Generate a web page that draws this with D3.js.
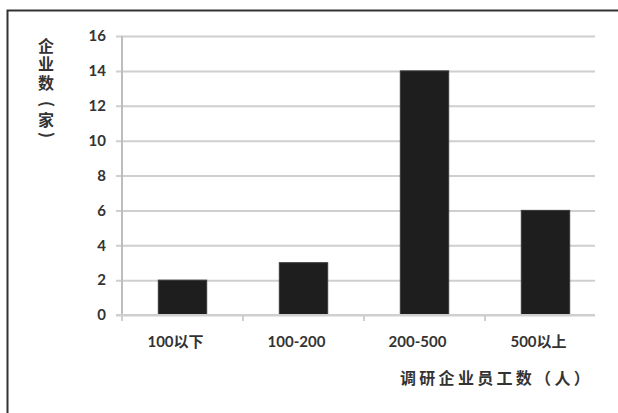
<!DOCTYPE html>
<html>
<head>
<meta charset="utf-8">
<script src="https://cdn.jsdelivr.net/npm/d3@7"></script>
<style>
html,body{margin:0;padding:0;background:#fff;}
svg{display:block;}
</style>
</head>
<body>
<svg id="chart" width="618" height="413"></svg>
<script>
const categories = ["100以下", "100-200", "200-500", "500以上"];
const values = [2, 3, 14, 6];
const yTicks = [0, 2, 4, 6, 8, 10, 12, 14, 16];
const yTitleChars = ["企", "业", "数", "(", "家", ")"];
const xTitle = "调研企业员工数（人）";

(function () {
const svg = d3.select("#chart");
const W = 618, H = 413;
const pL = 122, pR = 595, pT = 36, pB = 315;

svg.append("rect").attr("width", W).attr("height", H).attr("fill", "#fff");

// frame
svg.append("path")
  .attr("d", `M7.5,${H} L7.5,10.5 L${W},10.5`)
  .attr("fill", "none").attr("stroke", "#333").attr("stroke-width", 2);

const x = d3.scaleBand().domain(categories).range([pL, 606])
  .paddingInner(0.6).paddingOuter(0.3);
const y = d3.scaleLinear().domain([0, 16]).range([pB, pT]);

// gridlines with left ticks
const yAxis = d3.axisLeft(y).tickValues(yTicks).tickSize(-(pR - pL)).tickPadding(10);
const gy = svg.append("g").attr("transform", `translate(${pL},0)`).call(yAxis);
gy.select(".domain").remove();
gy.selectAll(".tick line").attr("stroke", "#cfcfcf").attr("stroke-width", 2)
  .attr("x1", -6);
gy.selectAll(".tick text")
  .attr("x", -16)
  .attr("fill", "#333").attr("font-family", "Lato, 'Liberation Sans', sans-serif")
  .attr("font-size", 15).attr("font-weight", "bold");

// y axis line
svg.append("line").attr("x1", pL).attr("x2", pL).attr("y1", pT).attr("y2", pB + 6)
  .attr("stroke", "#bdbdbd").attr("stroke-width", 2);

// x axis ticks
const xTickPos = categories.map(c => x(c) - x.step() * x.paddingInner() / 2);
svg.selectAll(".xtick").data(xTickPos).enter().append("line")
  .attr("x1", d => d).attr("x2", d => d).attr("y1", pB).attr("y2", pB + 6)
  .attr("stroke", "#cfcfcf").attr("stroke-width", 2);

// bars
svg.selectAll(".bar").data(values).enter().append("rect")
  .attr("x", (d, i) => x(categories[i]))
  .attr("width", x.bandwidth())
  .attr("y", d => y(d))
  .attr("height", d => y(0) - y(d))
  .attr("fill", "#1e1e1e").attr("stroke", "#3a3a3a").attr("stroke-width", 1);

// redraw zero line on top
svg.append("line").attr("x1", pL - 6).attr("x2", pR).attr("y1", y(0)).attr("y2", y(0))
  .attr("stroke", "#cfcfcf").attr("stroke-width", 2);

// x labels
svg.selectAll(".xlab").data(categories).enter().append("text")
  .attr("x", d => x(d) + x.bandwidth() / 2 - 7)
  .attr("y", 342)
  .attr("dy", "0.35em")
  .attr("text-anchor", "middle")
  .attr("fill", "#333")
  .attr("font-family", "Lato, 'Noto Sans CJK SC', sans-serif")
  .attr("font-size", 15).attr("font-weight", "bold")
  .text(d => d);

// x title
svg.append("text")
  .attr("x", 400).attr("y", 378).attr("dy", "0.35em")
  .attr("fill", "#333")
  .attr("font-family", "'Noto Sans CJK SC', sans-serif")
  .attr("font-size", 16).attr("font-weight", "bold")
  .attr("letter-spacing", 3.3)
  .text(xTitle);

// y title (vertical, one glyph per row; brackets turned)
const yPos = [46.5, 64.5, 83, 104, 120, 135];
svg.selectAll(".ytitle").data(yTitleChars).enter().append("text")
  .attr("transform", (d, i) => {
    const r = (d === "(" || d === ")") ? 90 : 0;
    return `translate(46,${yPos[i]}) rotate(${r})`;
  })
  .attr("dy", d => (d === "(" || d === ")") ? "0.3em" : "0.35em")
  .attr("text-anchor", "middle")
  .attr("fill", "#333")
  .attr("font-family", "'Noto Sans CJK SC', sans-serif")
  .attr("font-size", 16).attr("font-weight", "bold")
  .text(d => d);
})();
</script>
</body>
</html>
